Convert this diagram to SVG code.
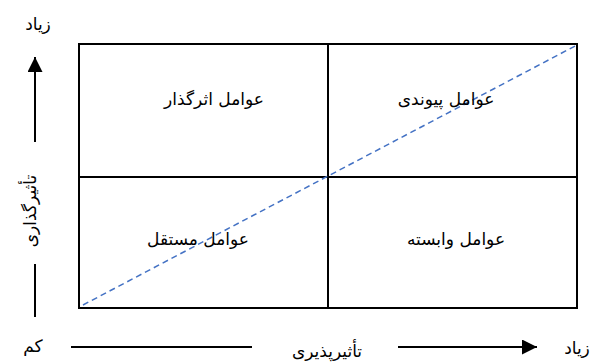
<svg xmlns="http://www.w3.org/2000/svg" width="592" height="362" viewBox="0 0 592 362">
<style>
.t{font-family:"DejaVu Sans","Noto Sans",sans-serif;font-size:17px;fill:#000;text-anchor:middle;direction:rtl}
.ln{stroke:#000;stroke-width:2;fill:none}
.dash{stroke:#4472C4;stroke-width:1.5;stroke-dasharray:6 4;fill:none}
</style>
<defs>
<marker id="ah" viewBox="0 0 10 10" refX="10" refY="5" markerWidth="7.5" markerHeight="7.5" markerUnits="strokeWidth" orient="auto">
<path d="M0,0 L10,5 L0,10 Z" fill="#000"/>
</marker>
</defs>
<g id="grid">
<rect x="79" y="44" width="498" height="264" class="ln"/>
<line x1="328" y1="44" x2="328" y2="308" class="ln"/>
<line x1="79" y1="177" x2="577" y2="177" class="ln"/>
</g>
<g id="connectors">
<line x1="83" y1="305" x2="577" y2="45" class="dash"/>
<line x1="35" y1="142" x2="35" y2="57" class="ln" marker-end="url(#ah)"/>
<line x1="35" y1="264" x2="35" y2="317" class="ln"/>
<line x1="71" y1="347" x2="252" y2="347" class="ln"/>
<line x1="398" y1="347" x2="537" y2="347" class="ln" marker-end="url(#ah)"/>
</g>
<g id="n1"><text class="t" x="214" y="105">عوامل اثرگذار</text></g>
<g id="n2"><text class="t" x="446" y="105">عوامل پیوندی</text></g>
<g id="n3"><text class="t" x="198" y="245">عوامل مستقل</text></g>
<g id="n4"><text class="t" x="456" y="245">عوامل وابسته</text></g>
<g id="axes">
<text class="t" x="38" y="30">زیاد</text>
<text class="t" x="33" y="352">کم</text>
<text class="t" x="327" y="357">تأثیرپذیری</text>
<text class="t" x="577" y="354">زیاد</text>
<text class="t" transform="translate(36,211) rotate(-90)">تأثیرگذاری</text>
</g>
</svg>
